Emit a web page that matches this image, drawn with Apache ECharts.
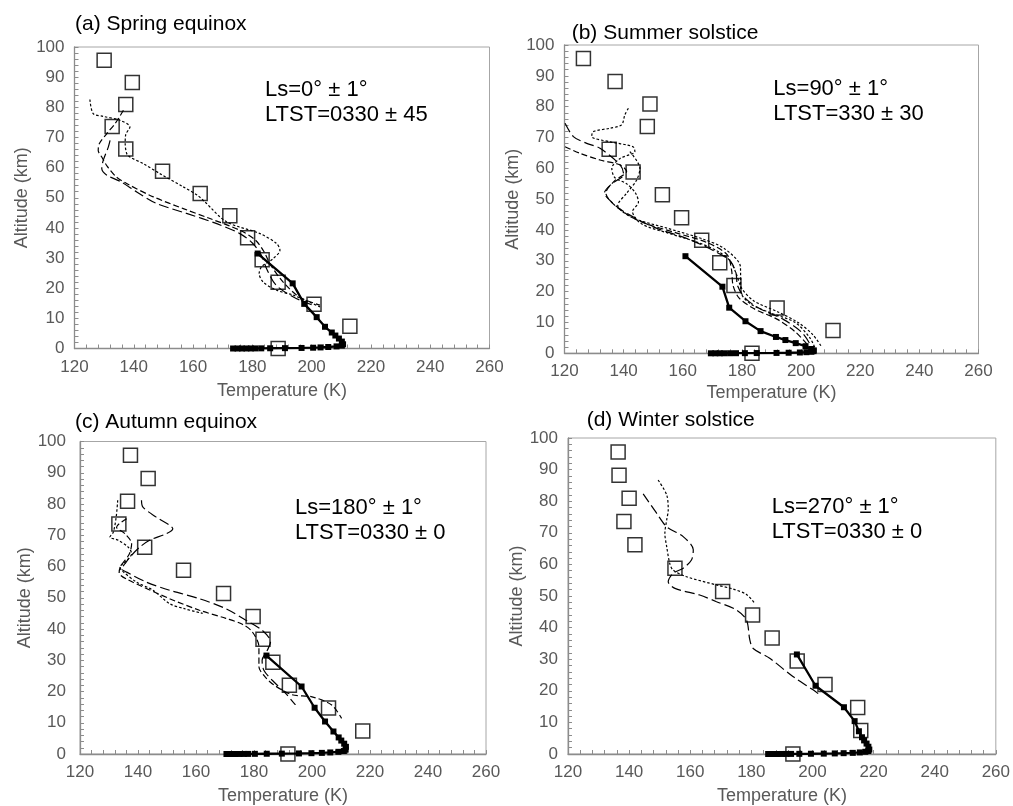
<!DOCTYPE html>
<html>
<head>
<meta charset="utf-8">
<script src="https://cdn.jsdelivr.net/npm/echarts@6/dist/echarts.min.js"></script>
<style>
  html, body { margin: 0; padding: 0; background: #fff; }
  #chart { width: 1013px; height: 806px; }
</style>
</head>
<body>
<div id="chart"></div>
<script>
// Altitudes (km) of the open-square reference profile, shared by all four seasons
const squareAlt = [0, 7.4, 14.7, 22.0, 29.4, 36.7, 44.0, 51.4, 58.8, 66.2, 73.6, 80.9, 88.2, 95.6];
const squareTempA = [188.7, 212.9, 200.8, 188.7, 183.3, 178.4, 172.4, 162.4, 149.7, 137.3, 132.7, 137.3, 139.5, 130.0];
const squareTempB = [183.4, 210.8, 191.9, 177.3, 172.5, 166.4, 159.6, 153.1, 143.2, 135.1, 148.0, 148.9, 137.1, 126.4];
const squareTempC = [191.7, 217.5, 205.7, 192.2, 186.5, 183.1, 179.7, 169.5, 155.7, 142.3, 133.4, 136.4, 143.5, 137.4];
const squareTempD = [193.6, 215.8, 214.8, 204.1, 195.0, 186.8, 180.4, 170.6, 155.0, 141.9, 138.3, 140.0, 136.7, 136.4];

// Model levels (km) of the near-surface profile (solid line with filled squares)
const modelAlt = [0, 0.002, 0.005, 0.01, 0.02, 0.03, 0.05, 0.08, 0.12, 0.18, 0.26, 0.36, 0.5, 0.7, 0.95, 1.4, 2.3, 3.3, 4.3, 5.3, 7.2, 10.4, 14.8, 21.6, 31.5];
const modelTempA = [173.5, 175, 176.5, 178, 179.5, 181, 183, 186, 191, 196.6, 200.5, 203, 205.6, 208.4, 210.2, 210.6, 210.2, 209.2, 208.0, 206.8, 204.5, 201.7, 197.5, 193.6, 181.8];
const modelTempB = [169.5, 171, 172.5, 174, 176, 178, 181, 185, 191.7, 195.8, 199.6, 201.8, 203.5, 204.2, 204.3, 203.5, 201.5, 198.2, 194.7, 191.5, 186.3, 181.2, 175.7, 173.4, 160.9];
const modelTempC = [170.5, 172, 173.5, 175, 176.5, 178, 180.3, 184.4, 189.6, 195.5, 199.8, 203.4, 206.3, 209.1, 211, 211.6, 211.7, 211.1, 210.1, 209.2, 207.4, 204.5, 200.9, 196.4, 184.3];
const modelTempD = [185.5, 187, 188.5, 190, 191.5, 193, 195.7, 199.5, 203.7, 207.3, 210.2, 213.2, 215.5, 217.3, 218.3, 218.6, 218.3, 217.7, 216.9, 216.2, 215.2, 213.8, 210.3, 201.0, 194.9];

// Individual retrieved profiles, [temperature K, altitude km]
const profileA1 = [[125.2,82.6],[126.3,77.9],[129.7,77],[135.3,75.7],[138.7,73.5],[137.3,71],[137.1,68],[137.6,64.7],[138.7,63.5],[143.2,61.3],[148.8,58],[156.7,53.6],[161.5,50.8],[164,48.6],[171.3,42],[182.6,38.1],[188.2,34.8],[189.3,32.6],[187,29.8],[183.1,27.1],[182.3,24.9],[183.6,22.1],[188.2,19.3],[193.8,17.7],[202.8,13.8]];
const profileA2 = [[136.5,79],[133.7,74.6],[130.9,71.3],[128.4,68],[128,65.7],[129.2,63.5],[131,60.5],[134,57],[137.6,54.7],[146.6,50.3],[156.7,46.4],[165.7,43.1],[175.8,39.2],[181,36],[184,32],[186,28],[190.4,22],[196,17],[202.8,14.4]];
const profileA3 = [[132,69],[131.4,66.8],[129.7,62.4],[129.2,59.7],[130.9,57.5],[135.9,55.2],[141,51.9],[147.7,48.1],[157.8,44.8],[168,41.4],[175.8,38.1],[180,35],[183,31],[185,26],[188,21],[194,17],[200,14.5]];

const profileB1 = [[141.6,79.5],[140.4,77.3],[139.3,74.1],[135.4,73.0],[129.7,71.9],[129.2,70.3],[135.4,68.6],[143.2,67.0],[143.8,65.4],[138.8,63.2],[136,60],[137,57],[141,55],[144,52],[145,49],[143,46],[146,42],[155,39],[165,36],[172,33],[176,30],[178,26],[180,21],[184,17],[192,13.5],[199,10],[204,6],[207,2]];
const profileB2 = [[120.2,74.6],[123,70.3],[127.5,68.1],[132,66.5],[138.8,61.1],[140,58],[136,55],[133.5,52],[136,49],[140,46],[150,41],[162,37],[171,33],[176,30],[178,26],[178.5,22],[181,18],[186,14.5],[194,11],[200,7],[203,3],[203.5,1]];
const profileB3 = [[120.2,67],[125.2,64.9],[132,62.7],[138.8,61.1],[141,59],[137,56],[134,52],[137,48],[145,43],[158,39],[168,36],[175,32],[176.5,27],[177,22],[179,18],[184,14.5],[192,11],[198,7],[202,3]];
const profileB4 = [[142.1,65.4],[145.5,60],[144.4,56.2],[141,51.9],[138,48],[143,44],[155,40.5],[167,37],[174,34],[179.5,28],[179.6,20],[183,16],[190,13],[198,10],[203,5],[205,1]];

const profileC1 = [[141.2,81.2],[141.7,79],[146.3,75.8],[150.9,73.2],[152,72.1],[149.8,70.5],[144,68.4],[140.6,66.2],[137.8,63.6],[135.5,60.9],[134.3,59.3],[136.1,58.2],[142.9,55],[150.9,52.4],[161.2,49.7],[170.3,46.5],[177.2,42.8],[182.8,39.6],[185.7,35.9],[184.6,33.2],[182.8,30],[183.4,26.8],[186.3,23.6],[190.9,19.4],[194.3,15.7]];
const profileC2 = [[136.1,75.3],[132.6,72.6],[135.5,70.5],[137.8,67.3],[137,64],[134,60],[133.5,58],[136,56],[150.9,49.7],[161.2,46],[170.3,43.4],[176,41.5],[179.4,39.1],[181.7,34.3],[181.7,27.9],[184,24.5],[187,22],[193,19],[200,18.3],[206.8,15.7],[210.2,11.4]];
const profileC3 = [[133,81.2],[132.5,76],[131.5,71],[130.3,69.4],[133.2,68.4],[136.6,66.2],[137.8,64.1],[136.1,61.9],[133.8,59.8],[134.3,58.8],[139.5,55],[145.2,52.4],[150.9,48.1],[156,46.5],[162.3,45]];

const profileD1 = [[149.5,86.7],[152.3,82],[152.8,77.2],[152.3,74.1],[151.7,69.8],[152.3,65.6],[153.3,60.3],[154.4,58.2],[158.8,56.1],[168.6,53.5],[174,52.2],[178.4,50.5],[181.1,47.7]];
const profileD2 = [[144.6,82.3],[149,76.2],[152.3,71.9],[157.7,68.8],[161,64.6],[160.4,61.4],[157.7,58.8],[154.4,57.2],[152.8,54.5],[155,52.4],[163.1,50.3],[168.6,48.2],[175.1,45.6],[178.4,42.4],[179.5,36.1],[180.6,33.4],[186,30.3],[193.6,24.5],[200.2,20.3],[202.4,18.7]];

const panelTitles = ['(a) Spring equinox', '(b) Summer solstice', '(c) Autumn equinox', '(d) Winter solstice'];
const lsLabels = ['Ls=0° ± 1°', 'Ls=90° ± 1°', 'Ls=180° ± 1°', 'Ls=270° ± 1°'];
const ltstLabels = ['LTST=0330 ± 45', 'LTST=330 ± 30', 'LTST=0330 ± 0', 'LTST=0330 ± 0'];

const dash = { short: [2.5, 2], medium: [6, 3], long: [10, 4] };

const panels = [
  { grid: { left: 74.5, top: 47, width: 415, height: 301.5 }, titleAt: [75, 24.5], noteAt: [265, 90],
    yNameGap: 43, yLabelMargin: 10, xNameGap: 34,
    squares: squareTempA, model: modelTempA,
    profiles: [[profileA1, 'short'], [profileA2, 'medium'], [profileA3, 'long']] },
  { grid: { left: 564.5, top: 45, width: 414, height: 308.3 }, titleAt: [571.7, 33], noteAt: [773.3, 89],
    yNameGap: 40, yLabelMargin: 10, xNameGap: 31,
    squares: squareTempB, model: modelTempB,
    profiles: [[profileB1, 'short'], [profileB2, 'long'], [profileB3, 'medium'], [profileB4, 'short']] },
  { grid: { left: 80, top: 441.5, width: 406, height: 312.5 }, titleAt: [75, 422], noteAt: [295, 507.5],
    yNameGap: 46, yLabelMargin: 14, xNameGap: 33,
    squares: squareTempC, model: modelTempC,
    profiles: [[profileC1, 'long'], [profileC2, 'medium'], [profileC3, 'short']] },
  { grid: { left: 568, top: 438, width: 429, height: 316 }, titleAt: [586.7, 420], noteAt: [771.7, 507],
    yNameGap: 40, yLabelMargin: 10, xNameGap: 33,
    squares: squareTempD, model: modelTempD,
    profiles: [[profileD1, 'short'], [profileD2, 'long']] }
];

const axisGray = '#8c8c8c';
const labelGray = '#595959';
const fontFamily = '"Liberation Sans", Arial, sans-serif';

const grids = [], xAxes = [], yAxes = [], series = [], graphics = [];

panels.forEach((p, i) => {
  grids.push(Object.assign({ show: true, borderColor: '#a6a6a6', borderWidth: 1, backgroundColor: 'transparent' }, p.grid));
  xAxes.push({
    type: 'value', gridIndex: i, min: 120, max: 260, interval: 20,
    name: 'Temperature (K)', nameLocation: 'middle', nameGap: p.xNameGap,
    nameTextStyle: { color: labelGray, fontSize: 18, fontFamily },
    axisLine: { show: true, lineStyle: { color: axisGray, width: 1.3 } },
    axisTick: { show: true, inside: true, length: 4, lineStyle: { color: axisGray } },
    minorTick: { show: true, splitNumber: 5, length: 4, lineStyle: { color: axisGray } },
    axisLabel: { color: labelGray, fontSize: 17, fontFamily, margin: 10 },
    splitLine: { show: false }
  });
  yAxes.push({
    type: 'value', gridIndex: i, min: 0, max: 100, interval: 10,
    name: 'Altitude (km)', nameLocation: 'middle', nameGap: p.yNameGap,
    nameTextStyle: { color: labelGray, fontSize: 18, fontFamily },
    axisLine: { show: true, lineStyle: { color: axisGray, width: 1.3 } },
    axisTick: { show: true, inside: true, length: 4, lineStyle: { color: axisGray } },
    minorTick: { show: true, splitNumber: 5, length: 4, lineStyle: { color: axisGray } },
    axisLabel: { color: labelGray, fontSize: 17, fontFamily, margin: p.yLabelMargin },
    splitLine: { show: false }
  });

  p.profiles.forEach(([pts, kind]) => {
    series.push({
      type: 'line', xAxisIndex: i, yAxisIndex: i, data: pts,
      symbol: 'none', smooth: 0.3, silent: true,
      lineStyle: { color: '#000', width: 1.2, type: dash[kind] }
    });
  });

  series.push({
    type: 'line', xAxisIndex: i, yAxisIndex: i,
    data: p.model.map((t, k) => [t, modelAlt[k]]),
    symbol: 'rect', symbolSize: 6, showAllSymbol: true, silent: true,
    itemStyle: { color: '#000' },
    lineStyle: { color: '#000', width: 2.3 }
  });

  series.push({
    type: 'scatter', xAxisIndex: i, yAxisIndex: i,
    data: p.squares.map((t, k) => [t, squareAlt[k]]),
    symbol: 'rect', symbolSize: 14, silent: true,
    itemStyle: { color: 'rgba(0,0,0,0)', borderColor: '#000', borderWidth: 1.5 }
  });

  graphics.push({
    type: 'text', x: p.titleAt[0], y: p.titleAt[1],
    style: { text: panelTitles[i], font: '21px ' + fontFamily, fill: '#000', verticalAlign: 'middle' }
  });
  graphics.push({
    type: 'text', x: p.noteAt[0], y: p.noteAt[1],
    style: { text: lsLabels[i], font: '22px ' + fontFamily, fill: '#000', verticalAlign: 'middle' }
  });
  graphics.push({
    type: 'text', x: p.noteAt[0], y: p.noteAt[1] + 25,
    style: { text: ltstLabels[i], font: '22px ' + fontFamily, fill: '#000', verticalAlign: 'middle' }
  });
});

const chart = echarts.init(document.getElementById('chart'), null, { renderer: 'canvas' });
chart.setOption({
  backgroundColor: '#fff',
  animation: false,
  grid: grids,
  xAxis: xAxes,
  yAxis: yAxes,
  series: series,
  graphic: graphics
});
</script>
</body>
</html>
